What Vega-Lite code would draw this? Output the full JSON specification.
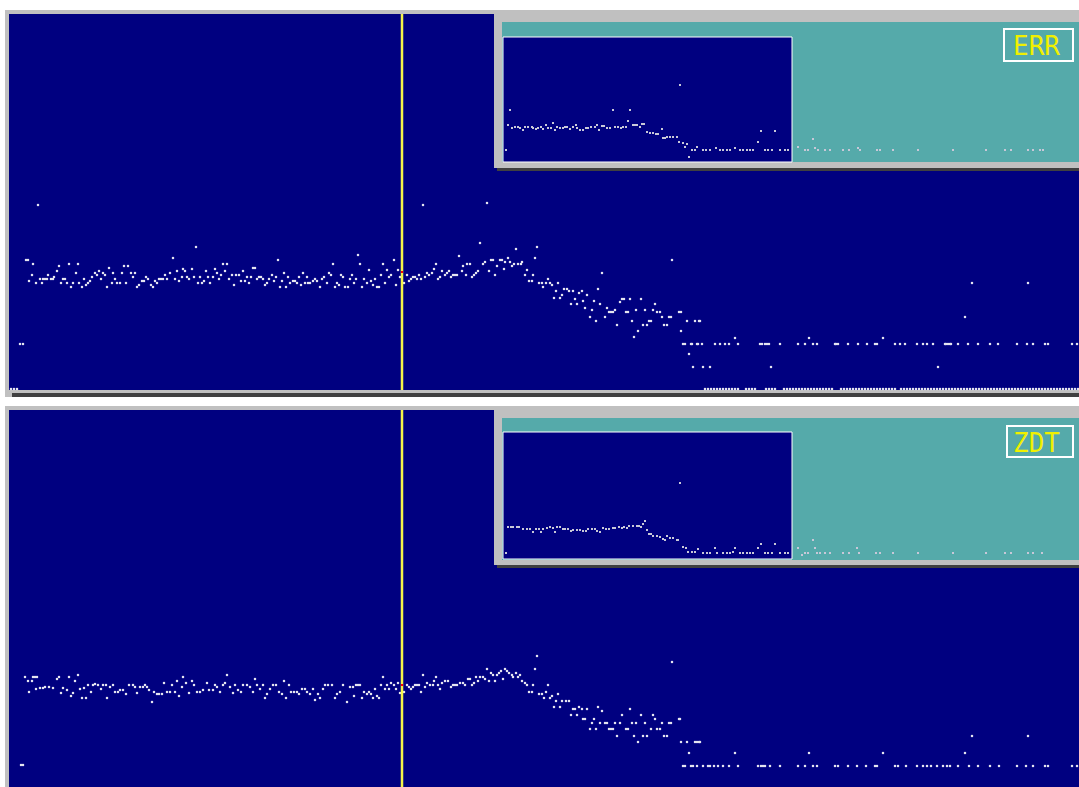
{
"$schema": "https://vega.github.io/schema/vega-lite/v6.json",
"background": "#ffffff",
"padding": {"left": 5, "top": 10, "right": 0, "bottom": 0},
"spacing": 9,
"config": {"view": {"stroke": null, "fill": "#c0c0c0"}},
"datasets": {
"topBg": [{"part":"bg","i":9,"i2":1079,"v":386,"v2":10},{"part":"shadow","i":12,"i2":1079,"v":7,"v2":3}],
"topInsetFrame": [{"part":"insetGray","i":494,"i2":1079,"v":386,"v2":232},{"part":"insetDark","i":497,"i2":1079,"v":232,"v2":229},{"part":"teal","i":502,"i2":1079,"v":378,"v2":238}],
"topBox": [{"i":503,"i2":792,"v":363,"v2":238}],
"topLabelBox": [{"i":1004,"i2":1073,"v":371,"v2":339}],
"topLabel": [{"i":1036.5,"v":345,"label":"ERR"}],
"topCursor": [{"i":402,"v":386,"v2":10}],
"topCursorPt": [{"i":402,"v":128}],
"botBg": [{"part":"bg","i":9,"i2":1079,"v":390,"v2":13}],
"botInsetFrame": [{"part":"insetGray","i":494,"i2":1079,"v":393,"v2":235},{"part":"insetDark","i":497,"i2":1079,"v":235,"v2":232},{"part":"teal","i":502,"i2":1079,"v":382,"v2":240}],
"botBox": [{"i":503,"i2":792,"v":368,"v2":241}],
"botLabelBox": [{"i":1007,"i2":1073,"v":374,"v2":343}],
"botLabel": [{"i":1036.5,"v":348,"label":"ZDT"}],
"botCursor": [{"i":402,"v":390,"v2":13}],
"botCursorPt": [{"i":402,"v":115}],
"topMain": [
{"i":20,"v":56},{"i":23,"v":56},{"i":11,"v":11},{"i":14,"v":11},{"i":17,"v":11},
{"i":26,"v":140},{"i":28,"v":140},{"i":33,"v":136},{"i":29,"v":119},{"i":32,"v":125},{"i":36,"v":117},{"i":38,"v":195},{"i":40,"v":121},{"i":43,"v":121},{"i":42,"v":117},{"i":45,"v":121},{"i":47,"v":121},{"i":48,"v":125},{"i":51,"v":121},{"i":53,"v":121},{"i":54,"v":123},{"i":57,"v":129},{"i":59,"v":134},{"i":61,"v":117},{"i":63,"v":121},{"i":65,"v":121},{"i":67,"v":117},{"i":69,"v":136},{"i":71,"v":113},{"i":73,"v":117},{"i":76,"v":127},{"i":78,"v":136},{"i":79,"v":117},{"i":82,"v":113},{"i":84,"v":121},{"i":86,"v":115},{"i":88,"v":117},{"i":90,"v":119},{"i":92,"v":123},{"i":95,"v":127},{"i":97,"v":125},{"i":99,"v":129},
{"i":101,"v":121},{"i":103,"v":127},{"i":105,"v":125},{"i":107,"v":113},{"i":109,"v":132},{"i":112,"v":117},{"i":113,"v":127},{"i":115,"v":121},{"i":117,"v":117},{"i":120,"v":117},{"i":122,"v":127},{"i":124,"v":134},{"i":128,"v":134},{"i":126,"v":117},{"i":131,"v":127},{"i":133,"v":123},{"i":135,"v":127},{"i":137,"v":113},{"i":139,"v":115},{"i":142,"v":119},{"i":144,"v":119},{"i":146,"v":123},{"i":148,"v":121},{"i":151,"v":115},{"i":153,"v":113},{"i":155,"v":119},{"i":157,"v":117},{"i":159,"v":121},{"i":161,"v":121},{"i":163,"v":121},{"i":165,"v":125},{"i":167,"v":121},{"i":170,"v":127},{"i":173,"v":142},{"i":175,"v":121},{"i":177,"v":129},{"i":179,"v":119},{"i":182,"v":123},{"i":183,"v":131},{"i":185,"v":129},{"i":187,"v":123},{"i":189,"v":121},{"i":192,"v":131},{"i":194,"v":123},{"i":196,"v":153},{"i":198,"v":117},
{"i":200,"v":123},{"i":202,"v":117},{"i":204,"v":119},{"i":206,"v":129},{"i":208,"v":123},{"i":210,"v":117},{"i":213,"v":123},{"i":215,"v":131},{"i":217,"v":127},{"i":219,"v":121},{"i":221,"v":125},{"i":223,"v":136},{"i":227,"v":136},{"i":225,"v":129},{"i":229,"v":121},{"i":232,"v":125},{"i":234,"v":115},{"i":236,"v":125},{"i":239,"v":125},{"i":241,"v":119},{"i":243,"v":129},{"i":245,"v":119},{"i":247,"v":123},{"i":249,"v":117},{"i":251,"v":123},{"i":253,"v":132},{"i":255,"v":132},{"i":257,"v":121},{"i":259,"v":123},{"i":261,"v":123},{"i":263,"v":121},{"i":265,"v":115},{"i":267,"v":117},{"i":269,"v":121},{"i":272,"v":125},{"i":274,"v":119},{"i":276,"v":123},{"i":278,"v":140},{"i":280,"v":113},{"i":282,"v":119},{"i":284,"v":127},{"i":286,"v":113},{"i":288,"v":123},{"i":290,"v":117},{"i":293,"v":119},{"i":295,"v":119},{"i":297,"v":117},{"i":299,"v":123},
{"i":301,"v":115},{"i":303,"v":127},{"i":305,"v":117},{"i":308,"v":117},{"i":310,"v":117},{"i":307,"v":123},{"i":313,"v":119},{"i":315,"v":121},{"i":317,"v":119},{"i":320,"v":113},{"i":322,"v":121},{"i":324,"v":123},{"i":327,"v":117},{"i":329,"v":127},{"i":331,"v":125},{"i":333,"v":136},{"i":335,"v":113},{"i":337,"v":117},{"i":339,"v":115},{"i":341,"v":125},{"i":343,"v":123},{"i":345,"v":113},{"i":348,"v":113},{"i":350,"v":121},{"i":352,"v":125},{"i":354,"v":117},{"i":356,"v":121},{"i":358,"v":145},{"i":360,"v":136},{"i":362,"v":113},{"i":364,"v":121},{"i":367,"v":117},{"i":369,"v":130},{"i":371,"v":119},{"i":373,"v":115},{"i":375,"v":121},{"i":377,"v":113},{"i":379,"v":113},{"i":381,"v":125},{"i":383,"v":136},{"i":385,"v":117},{"i":387,"v":130},{"i":389,"v":123},{"i":391,"v":125},{"i":394,"v":140},{"i":396,"v":115},{"i":398,"v":130},
{"i":400,"v":123},{"i":404,"v":117},{"i":407,"v":125},{"i":409,"v":119},{"i":411,"v":121},{"i":413,"v":123},{"i":415,"v":123},{"i":417,"v":121},{"i":419,"v":125},{"i":421,"v":121},{"i":423,"v":195},{"i":425,"v":123},{"i":427,"v":127},{"i":429,"v":125},{"i":432,"v":127},{"i":434,"v":131},{"i":436,"v":136},{"i":438,"v":121},{"i":440,"v":123},{"i":442,"v":129},{"i":445,"v":125},{"i":447,"v":127},{"i":449,"v":129},{"i":451,"v":123},{"i":453,"v":125},{"i":455,"v":125},{"i":457,"v":125},{"i":459,"v":144},{"i":462,"v":129},{"i":463,"v":134},{"i":466,"v":125},{"i":467,"v":136},{"i":470,"v":136},{"i":472,"v":123},{"i":474,"v":125},{"i":476,"v":127},{"i":478,"v":129},{"i":480,"v":157},{"i":483,"v":136},{"i":485,"v":138},{"i":487,"v":197},{"i":489,"v":129},{"i":491,"v":140},{"i":493,"v":140},{"i":495,"v":125},{"i":497,"v":134},
{"i":500,"v":140},{"i":502,"v":140},{"i":504,"v":131},{"i":505,"v":138},{"i":508,"v":142},{"i":510,"v":138},{"i":512,"v":134},{"i":514,"v":136},{"i":516,"v":151},{"i":518,"v":136},{"i":521,"v":136},{"i":522,"v":138},{"i":525,"v":125},{"i":527,"v":130},{"i":529,"v":119},{"i":532,"v":119},{"i":533,"v":125},{"i":535,"v":142},{"i":537,"v":153},{"i":539,"v":117},{"i":542,"v":117},{"i":543,"v":113},{"i":546,"v":117},{"i":548,"v":121},{"i":550,"v":117},{"i":552,"v":115},{"i":554,"v":102},{"i":556,"v":109},{"i":558,"v":117},{"i":560,"v":102},{"i":562,"v":105},{"i":564,"v":111},{"i":567,"v":111},{"i":569,"v":109},{"i":571,"v":96},{"i":573,"v":109},{"i":575,"v":101},{"i":577,"v":96},{"i":579,"v":107},{"i":582,"v":109},{"i":583,"v":99},{"i":585,"v":92},{"i":587,"v":105},{"i":590,"v":83},{"i":592,"v":90},{"i":594,"v":99},{"i":596,"v":79},{"i":598,"v":111},
{"i":600,"v":96},{"i":602,"v":127},{"i":605,"v":83},{"i":607,"v":92},{"i":609,"v":88},{"i":611,"v":88},{"i":613,"v":88},{"i":615,"v":90},{"i":617,"v":75},{"i":620,"v":98},{"i":622,"v":101},{"i":624,"v":101},{"i":626,"v":88},{"i":628,"v":88},{"i":630,"v":101},{"i":632,"v":79},{"i":634,"v":63},{"i":636,"v":90},{"i":638,"v":69},{"i":641,"v":101},{"i":643,"v":75},{"i":645,"v":90},{"i":647,"v":75},{"i":649,"v":79},{"i":651,"v":79},{"i":653,"v":90},{"i":655,"v":96},{"i":657,"v":88},{"i":660,"v":88},{"i":662,"v":83},{"i":664,"v":75},{"i":667,"v":75},{"i":669,"v":83},{"i":671,"v":83},{"i":672,"v":140},{"i":679,"v":88},{"i":681,"v":69},{"i":683,"v":56},{"i":685,"v":56},{"i":687,"v":79},{"i":689,"v":46},{"i":691,"v":56},{"i":695,"v":79},{"i":697,"v":56},{"i":699,"v":79},{"i":700,"v":79},{"i":702,"v":56},
{"i":692,"v":56},{"i":698,"v":56},{"i":715,"v":56},{"i":720,"v":56},{"i":725,"v":56},{"i":729,"v":56},{"i":738,"v":56},{"i":760,"v":56},{"i":762,"v":56},{"i":765,"v":56},{"i":767,"v":56},{"i":769,"v":56},{"i":780,"v":56},{"i":798,"v":56},{"i":805,"v":56},{"i":813,"v":56},{"i":817,"v":56},{"i":835,"v":56},{"i":836,"v":56},{"i":838,"v":56},{"i":848,"v":56},{"i":858,"v":56},{"i":867,"v":56},{"i":875,"v":56},{"i":877,"v":56},{"i":895,"v":56},{"i":900,"v":56},{"i":905,"v":56},{"i":917,"v":56},{"i":923,"v":56},{"i":927,"v":56},{"i":933,"v":56},{"i":945,"v":56},{"i":946,"v":56},{"i":948,"v":56},{"i":950,"v":56},{"i":951,"v":56},{"i":958,"v":56},{"i":968,"v":56},{"i":978,"v":56},{"i":990,"v":56},{"i":998,"v":56},{"i":1017,"v":56},{"i":1027,"v":56},{"i":1033,"v":56},{"i":1045,"v":56},{"i":1048,"v":56},{"i":1072,"v":56},{"i":1077,"v":56},
{"i":735,"v":62},{"i":809,"v":62},{"i":883,"v":62},{"i":693,"v":33},{"i":703,"v":33},{"i":710,"v":33},{"i":771,"v":33},{"i":938,"v":33},{"i":965,"v":83},{"i":972,"v":117},{"i":1028,"v":117},{"i":681,"v":88},
{"i":705,"v":11},{"i":708,"v":11},{"i":711,"v":11},{"i":714,"v":11},{"i":717,"v":11},{"i":720,"v":11},{"i":723,"v":11},{"i":726,"v":11},{"i":729,"v":11},{"i":732,"v":11},{"i":735,"v":11},{"i":738,"v":11},{"i":746,"v":11},{"i":749,"v":11},{"i":752,"v":11},{"i":755,"v":11},{"i":766,"v":11},{"i":769,"v":11},{"i":772,"v":11},{"i":775,"v":11},{"i":784,"v":11},{"i":787,"v":11},{"i":790,"v":11},{"i":793,"v":11},{"i":796,"v":11},{"i":799,"v":11},{"i":802,"v":11},{"i":805,"v":11},{"i":808,"v":11},{"i":811,"v":11},{"i":814,"v":11},{"i":817,"v":11},{"i":820,"v":11},{"i":823,"v":11},{"i":826,"v":11},{"i":829,"v":11},{"i":832,"v":11},{"i":841,"v":11},{"i":844,"v":11},{"i":847,"v":11},{"i":850,"v":11},{"i":853,"v":11},{"i":856,"v":11},{"i":859,"v":11},{"i":862,"v":11},{"i":865,"v":11},{"i":868,"v":11},{"i":871,"v":11},{"i":874,"v":11},{"i":877,"v":11},{"i":880,"v":11},{"i":883,"v":11},{"i":886,"v":11},{"i":889,"v":11},{"i":892,"v":11},{"i":895,"v":11},{"i":901,"v":11},{"i":904,"v":11},{"i":907,"v":11},{"i":910,"v":11},{"i":913,"v":11},{"i":916,"v":11},{"i":919,"v":11},{"i":922,"v":11},{"i":925,"v":11},{"i":928,"v":11},{"i":931,"v":11},{"i":934,"v":11},{"i":937,"v":11},{"i":940,"v":11},{"i":943,"v":11},{"i":946,"v":11},{"i":949,"v":11},{"i":952,"v":11},{"i":955,"v":11},{"i":958,"v":11},{"i":961,"v":11},{"i":964,"v":11},{"i":967,"v":11},{"i":970,"v":11},{"i":973,"v":11},{"i":976,"v":11},{"i":979,"v":11},{"i":982,"v":11},{"i":985,"v":11},{"i":988,"v":11},{"i":991,"v":11},{"i":994,"v":11},{"i":997,"v":11},{"i":1000,"v":11},{"i":1003,"v":11},{"i":1006,"v":11},{"i":1009,"v":11},{"i":1012,"v":11},{"i":1015,"v":11},{"i":1018,"v":11},{"i":1021,"v":11},{"i":1024,"v":11},{"i":1027,"v":11},{"i":1030,"v":11},{"i":1033,"v":11},{"i":1036,"v":11},{"i":1039,"v":11},{"i":1042,"v":11},{"i":1045,"v":11},{"i":1048,"v":11},{"i":1051,"v":11},{"i":1054,"v":11},{"i":1057,"v":11},{"i":1060,"v":11},{"i":1063,"v":11},{"i":1066,"v":11},{"i":1069,"v":11},{"i":1072,"v":11},{"i":1075,"v":11},{"i":1078,"v":11}
],
"topInset": [
{"i":506,"v":250},{"i":510,"v":290},{"i":508,"v":275},{"i":512,"v":272},{"i":515,"v":273},{"i":518,"v":273},{"i":520,"v":272},{"i":523,"v":270},{"i":525,"v":273},{"i":528,"v":273},{"i":532,"v":273},{"i":533,"v":272},{"i":536,"v":271},{"i":538,"v":272},{"i":541,"v":273},{"i":543,"v":271},{"i":546,"v":275},{"i":548,"v":272},{"i":551,"v":272},{"i":553,"v":277},{"i":555,"v":270},{"i":557,"v":273},{"i":560,"v":272},{"i":563,"v":272},{"i":565,"v":273},{"i":567,"v":273},{"i":570,"v":271},{"i":573,"v":273},{"i":576,"v":275},{"i":577,"v":272},{"i":580,"v":270},{"i":583,"v":270},{"i":586,"v":272},{"i":588,"v":272},{"i":591,"v":273},{"i":595,"v":273},{"i":597,"v":275},{"i":599,"v":270},{"i":602,"v":274},{"i":604,"v":274},{"i":607,"v":272},{"i":610,"v":272},{"i":613,"v":290},{"i":615,"v":273},{"i":618,"v":273},{"i":621,"v":272},{"i":623,"v":273},{"i":626,"v":273},{"i":628,"v":279},{"i":630,"v":290},{"i":633,"v":275},{"i":635,"v":275},{"i":637,"v":275},{"i":640,"v":273},{"i":642,"v":276},{"i":644,"v":276},{"i":647,"v":268},{"i":650,"v":267},{"i":653,"v":267},{"i":656,"v":266},{"i":658,"v":266},{"i":662,"v":271},{"i":663,"v":262},{"i":665,"v":262},{"i":667,"v":263},{"i":670,"v":263},{"i":673,"v":263},{"i":677,"v":263},{"i":679,"v":258},{"i":680,"v":315},{"i":683,"v":257},{"i":685,"v":253},{"i":687,"v":256},{"i":689,"v":243},{"i":692,"v":250},{"i":695,"v":250},{"i":697,"v":253},{"i":703,"v":250},{"i":706,"v":250},{"i":710,"v":250},{"i":716,"v":252},{"i":720,"v":250},{"i":723,"v":250},{"i":727,"v":250},{"i":730,"v":250},{"i":735,"v":252},{"i":740,"v":250},{"i":743,"v":250},{"i":747,"v":250},{"i":750,"v":250},{"i":753,"v":250},{"i":758,"v":258},{"i":761,"v":269},{"i":765,"v":250},{"i":768,"v":250},{"i":772,"v":250},{"i":775,"v":269},{"i":780,"v":250},{"i":785,"v":250},{"i":788,"v":250},{"i":798,"v":253},{"i":805,"v":250},{"i":808,"v":250},{"i":813,"v":261},{"i":815,"v":252},{"i":818,"v":250},{"i":825,"v":250},{"i":830,"v":250},{"i":843,"v":250},{"i":849,"v":250},{"i":858,"v":252},{"i":860,"v":250},{"i":877,"v":250},{"i":880,"v":250},{"i":893,"v":250},{"i":918,"v":250},{"i":953,"v":250},{"i":986,"v":250},{"i":1005,"v":250},{"i":1011,"v":250},{"i":1028,"v":250},{"i":1033,"v":250},{"i":1040,"v":250},{"i":1043,"v":250}
],
"botMain": [
{"i":21,"v":35},{"i":23,"v":35},{"i":25,"v":123},{"i":28,"v":119},{"i":32,"v":119},{"i":33,"v":123},{"i":35,"v":123},{"i":37,"v":123},{"i":29,"v":108},{"i":36,"v":111},{"i":40,"v":112},{"i":43,"v":112},{"i":45,"v":113},{"i":49,"v":113},{"i":53,"v":112},{"i":57,"v":121},{"i":59,"v":123},{"i":61,"v":107},{"i":63,"v":112},{"i":67,"v":110},{"i":69,"v":123},{"i":71,"v":104},{"i":73,"v":107},{"i":75,"v":119},{"i":78,"v":125},{"i":80,"v":111},{"i":82,"v":102},{"i":86,"v":102},{"i":84,"v":112},{"i":88,"v":115},{"i":91,"v":108},{"i":93,"v":115},{"i":95,"v":116},{"i":98,"v":115},
{"i":101,"v":111},{"i":103,"v":115},{"i":106,"v":115},{"i":107,"v":102},{"i":110,"v":113},{"i":113,"v":115},{"i":115,"v":108},{"i":118,"v":108},{"i":120,"v":110},{"i":123,"v":110},{"i":126,"v":106},{"i":129,"v":115},{"i":133,"v":115},{"i":135,"v":113},{"i":137,"v":107},{"i":140,"v":113},{"i":143,"v":113},{"i":145,"v":115},{"i":147,"v":113},{"i":149,"v":110},{"i":152,"v":98},{"i":154,"v":108},{"i":157,"v":106},{"i":159,"v":106},{"i":162,"v":106},{"i":164,"v":117},{"i":167,"v":108},{"i":170,"v":108},{"i":172,"v":115},{"i":175,"v":108},{"i":177,"v":119},{"i":179,"v":104},{"i":182,"v":113},{"i":183,"v":123},{"i":186,"v":117},{"i":189,"v":107},{"i":192,"v":119},{"i":194,"v":115},{"i":197,"v":108},
{"i":200,"v":108},{"i":203,"v":110},{"i":207,"v":117},{"i":209,"v":110},{"i":213,"v":110},{"i":215,"v":115},{"i":217,"v":113},{"i":220,"v":108},{"i":223,"v":115},{"i":225,"v":117},{"i":227,"v":125},{"i":230,"v":113},{"i":233,"v":107},{"i":235,"v":115},{"i":238,"v":110},{"i":241,"v":108},{"i":243,"v":115},{"i":247,"v":115},{"i":250,"v":113},{"i":253,"v":108},{"i":255,"v":121},{"i":257,"v":115},{"i":260,"v":111},{"i":263,"v":115},{"i":265,"v":102},{"i":267,"v":106},{"i":270,"v":111},{"i":273,"v":115},{"i":276,"v":115},{"i":279,"v":108},{"i":282,"v":106},{"i":284,"v":119},{"i":286,"v":102},{"i":289,"v":115},{"i":291,"v":108},{"i":294,"v":108},{"i":297,"v":108},{"i":299,"v":106},
{"i":302,"v":111},{"i":305,"v":111},{"i":307,"v":108},{"i":310,"v":106},{"i":313,"v":111},{"i":315,"v":100},{"i":318,"v":106},{"i":320,"v":102},{"i":323,"v":111},{"i":325,"v":115},{"i":328,"v":115},{"i":332,"v":115},{"i":335,"v":102},{"i":337,"v":106},{"i":340,"v":108},{"i":343,"v":115},{"i":347,"v":98},{"i":350,"v":113},{"i":353,"v":113},{"i":356,"v":115},{"i":358,"v":115},{"i":354,"v":104},{"i":360,"v":115},{"i":362,"v":102},{"i":364,"v":108},{"i":367,"v":106},{"i":369,"v":108},{"i":371,"v":106},{"i":373,"v":102},{"i":375,"v":111},{"i":377,"v":104},{"i":379,"v":102},{"i":381,"v":115},{"i":383,"v":123},{"i":385,"v":111},{"i":387,"v":115},{"i":389,"v":111},{"i":391,"v":117},{"i":394,"v":115},{"i":396,"v":111},{"i":398,"v":117},
{"i":400,"v":107},{"i":404,"v":108},{"i":407,"v":115},{"i":409,"v":113},{"i":411,"v":111},{"i":413,"v":113},{"i":415,"v":115},{"i":417,"v":115},{"i":419,"v":115},{"i":421,"v":108},{"i":423,"v":125},{"i":425,"v":113},{"i":427,"v":117},{"i":430,"v":115},{"i":433,"v":115},{"i":434,"v":119},{"i":436,"v":123},{"i":438,"v":115},{"i":440,"v":111},{"i":442,"v":117},{"i":445,"v":119},{"i":448,"v":119},{"i":451,"v":113},{"i":453,"v":115},{"i":455,"v":115},{"i":457,"v":115},{"i":460,"v":117},{"i":463,"v":117},{"i":465,"v":115},{"i":468,"v":121},{"i":470,"v":121},{"i":472,"v":115},{"i":474,"v":117},{"i":476,"v":123},{"i":478,"v":119},{"i":480,"v":123},{"i":483,"v":123},{"i":485,"v":121},{"i":487,"v":131},{"i":489,"v":119},{"i":491,"v":127},{"i":493,"v":125},{"i":495,"v":119},{"i":497,"v":125},{"i":499,"v":127},
{"i":501,"v":129},{"i":503,"v":121},{"i":505,"v":131},{"i":507,"v":129},{"i":509,"v":127},{"i":512,"v":125},{"i":513,"v":123},{"i":516,"v":127},{"i":518,"v":123},{"i":520,"v":125},{"i":522,"v":119},{"i":525,"v":117},{"i":527,"v":115},{"i":529,"v":108},{"i":532,"v":108},{"i":533,"v":115},{"i":535,"v":131},{"i":537,"v":144},{"i":539,"v":106},{"i":542,"v":106},{"i":544,"v":102},{"i":546,"v":108},{"i":548,"v":115},{"i":550,"v":102},{"i":552,"v":104},{"i":554,"v":93},{"i":556,"v":99},{"i":558,"v":106},{"i":560,"v":93},{"i":562,"v":99},{"i":566,"v":99},{"i":569,"v":99},{"i":571,"v":85},{"i":573,"v":91},{"i":575,"v":91},{"i":577,"v":85},{"i":579,"v":93},{"i":582,"v":91},{"i":583,"v":81},{"i":585,"v":81},{"i":587,"v":91},{"i":590,"v":71},{"i":592,"v":77},{"i":594,"v":81},{"i":596,"v":71},{"i":598,"v":93},
{"i":600,"v":77},{"i":602,"v":89},{"i":605,"v":77},{"i":607,"v":77},{"i":609,"v":71},{"i":611,"v":71},{"i":613,"v":71},{"i":615,"v":77},{"i":617,"v":64},{"i":620,"v":77},{"i":622,"v":85},{"i":626,"v":71},{"i":628,"v":71},{"i":630,"v":91},{"i":632,"v":77},{"i":634,"v":64},{"i":636,"v":77},{"i":638,"v":58},{"i":641,"v":85},{"i":643,"v":64},{"i":645,"v":77},{"i":647,"v":64},{"i":651,"v":71},{"i":653,"v":85},{"i":655,"v":81},{"i":657,"v":71},{"i":660,"v":71},{"i":662,"v":77},{"i":664,"v":64},{"i":667,"v":64},{"i":669,"v":77},{"i":671,"v":77},{"i":672,"v":138},{"i":679,"v":81},{"i":681,"v":58},{"i":687,"v":58},{"i":689,"v":47},{"i":695,"v":58},{"i":697,"v":58},{"i":699,"v":58},{"i":700,"v":58},
{"i":683,"v":34},{"i":685,"v":34},{"i":691,"v":34},{"i":693,"v":34},{"i":697,"v":34},{"i":703,"v":34},{"i":708,"v":34},{"i":710,"v":34},{"i":714,"v":34},{"i":718,"v":34},{"i":723,"v":34},{"i":729,"v":34},{"i":738,"v":34},{"i":758,"v":34},{"i":761,"v":34},{"i":763,"v":34},{"i":765,"v":34},{"i":770,"v":34},{"i":780,"v":34},{"i":798,"v":34},{"i":805,"v":34},{"i":813,"v":34},{"i":817,"v":34},{"i":835,"v":34},{"i":838,"v":34},{"i":848,"v":34},{"i":857,"v":34},{"i":866,"v":34},{"i":875,"v":34},{"i":877,"v":34},{"i":895,"v":34},{"i":898,"v":34},{"i":906,"v":34},{"i":917,"v":34},{"i":923,"v":34},{"i":927,"v":34},{"i":931,"v":34},{"i":937,"v":34},{"i":943,"v":34},{"i":947,"v":34},{"i":950,"v":34},{"i":958,"v":34},{"i":969,"v":34},{"i":978,"v":34},{"i":990,"v":34},{"i":999,"v":34},{"i":1017,"v":34},{"i":1026,"v":34},{"i":1033,"v":34},{"i":1045,"v":34},{"i":1048,"v":34},{"i":1072,"v":34},{"i":1077,"v":34},
{"i":735,"v":47},{"i":809,"v":47},{"i":883,"v":47},{"i":965,"v":47},{"i":972,"v":64},{"i":1028,"v":64},{"i":680,"v":81}
],
"botInset": [
{"i":506,"v":247},{"i":508,"v":273},{"i":511,"v":273},{"i":513,"v":273},{"i":517,"v":273},{"i":519,"v":273},{"i":523,"v":271},{"i":527,"v":271},{"i":530,"v":271},{"i":533,"v":268},{"i":536,"v":271},{"i":539,"v":271},{"i":541,"v":268},{"i":543,"v":271},{"i":547,"v":272},{"i":550,"v":273},{"i":553,"v":272},{"i":555,"v":268},{"i":557,"v":273},{"i":560,"v":273},{"i":563,"v":271},{"i":565,"v":271},{"i":568,"v":271},{"i":571,"v":269},{"i":573,"v":270},{"i":577,"v":270},{"i":580,"v":270},{"i":583,"v":269},{"i":586,"v":269},{"i":588,"v":271},{"i":592,"v":271},{"i":595,"v":271},{"i":597,"v":269},{"i":600,"v":268},{"i":603,"v":272},{"i":606,"v":271},{"i":609,"v":271},{"i":613,"v":272},{"i":615,"v":272},{"i":619,"v":273},{"i":622,"v":272},{"i":624,"v":273},{"i":627,"v":272},{"i":629,"v":274},{"i":633,"v":274},{"i":637,"v":274},{"i":639,"v":274},{"i":641,"v":273},{"i":643,"v":276},{"i":645,"v":279},{"i":647,"v":270},{"i":649,"v":266},{"i":651,"v":266},{"i":653,"v":264},{"i":657,"v":264},{"i":660,"v":263},{"i":663,"v":261},{"i":665,"v":260},{"i":667,"v":264},{"i":670,"v":262},{"i":673,"v":262},{"i":677,"v":260},{"i":678,"v":260},{"i":680,"v":317},{"i":683,"v":253},{"i":686,"v":252},{"i":688,"v":248},{"i":692,"v":248},{"i":695,"v":248},{"i":698,"v":251},{"i":703,"v":247},{"i":707,"v":247},{"i":710,"v":247},{"i":715,"v":252},{"i":717,"v":247},{"i":723,"v":247},{"i":727,"v":247},{"i":730,"v":247},{"i":733,"v":248},{"i":735,"v":252},{"i":740,"v":247},{"i":743,"v":247},{"i":747,"v":247},{"i":750,"v":247},{"i":753,"v":247},{"i":758,"v":252},{"i":761,"v":256},{"i":765,"v":247},{"i":768,"v":247},{"i":772,"v":247},{"i":775,"v":256},{"i":780,"v":247},{"i":785,"v":247},{"i":788,"v":247},{"i":798,"v":252},{"i":802,"v":245},{"i":805,"v":247},{"i":808,"v":247},{"i":813,"v":260},{"i":815,"v":252},{"i":817,"v":247},{"i":820,"v":247},{"i":825,"v":247},{"i":830,"v":247},{"i":843,"v":247},{"i":849,"v":247},{"i":857,"v":252},{"i":859,"v":247},{"i":876,"v":247},{"i":880,"v":247},{"i":893,"v":247},{"i":918,"v":247},{"i":953,"v":247},{"i":986,"v":247},{"i":1005,"v":247},{"i":1011,"v":247},{"i":1028,"v":247},{"i":1033,"v":247},{"i":1042,"v":247}
]
},
"vconcat": [
{
"width": 1074, "height": 387,
"encoding": {
"x": {"field": "i", "type": "quantitative", "scale": {"domain": [5, 1079], "nice": false, "zero": false}, "axis": null},
"y": {"field": "v", "type": "quantitative", "scale": {"domain": [3, 390], "nice": false, "zero": false}, "axis": null}
},
"layer": [
{"data": {"name": "topBg"}, "mark": {"type": "rect"}, "encoding": {"x2": {"field": "i2"}, "y2": {"field": "v2"}, "color": {"field": "part", "type": "nominal", "scale": {"domain": ["bg", "shadow", "insetGray", "insetDark", "teal"], "range": ["#000080", "#404040", "#c0c0c0", "#404040", "#55aaaa"]}, "legend": null}}},
{"data": {"name": "topMain"}, "mark": {"type": "square", "size": 5, "color": "#e4e4f0", "opacity": 1}},
{"data": {"name": "topCursor"}, "mark": {"type": "rule", "color": "#f4f44a", "strokeWidth": 2.5}, "encoding": {"y2": {"field": "v2"}}},
{"data": {"name": "topCursorPt"}, "mark": {"type": "square", "size": 4, "color": "#ff0000", "opacity": 1}},
{"data": {"name": "topInsetFrame"}, "mark": {"type": "rect"}, "encoding": {"x2": {"field": "i2"}, "y2": {"field": "v2"}, "color": {"field": "part", "type": "nominal", "scale": {"domain": ["bg", "shadow", "insetGray", "insetDark", "teal"], "range": ["#000080", "#404040", "#c0c0c0", "#404040", "#55aaaa"]}, "legend": null}}},
{"data": {"name": "topBox"}, "mark": {"type": "rect", "fill": "#000080", "stroke": "#ffffff", "strokeWidth": 1}, "encoding": {"x2": {"field": "i2"}, "y2": {"field": "v2"}}},
{"data": {"name": "topInset"}, "mark": {"type": "square", "size": 4, "color": "#c8c8d8", "opacity": 1}},
{"data": {"name": "topLabelBox"}, "mark": {"type": "rect", "fill": "#55aaaa", "stroke": "#ffffff", "strokeWidth": 2}, "encoding": {"x2": {"field": "i2"}, "y2": {"field": "v2"}}},
{"data": {"name": "topLabel"}, "mark": {"type": "text", "font": "DejaVu Sans Mono", "fontSize": 26, "color": "#f0f000", "align": "center", "baseline": "alphabetic"}, "encoding": {"text": {"field": "label"}}}
]
},
{
"width": 1074, "height": 381,
"encoding": {
"x": {"field": "i", "type": "quantitative", "scale": {"domain": [5, 1079], "nice": false, "zero": false}, "axis": null},
"y": {"field": "v", "type": "quantitative", "scale": {"domain": [13, 394], "nice": false, "zero": false}, "axis": null}
},
"layer": [
{"data": {"name": "botBg"}, "mark": {"type": "rect"}, "encoding": {"x2": {"field": "i2"}, "y2": {"field": "v2"}, "color": {"field": "part", "type": "nominal", "scale": {"domain": ["bg", "shadow", "insetGray", "insetDark", "teal"], "range": ["#000080", "#404040", "#c0c0c0", "#404040", "#55aaaa"]}, "legend": null}}},
{"data": {"name": "botMain"}, "mark": {"type": "square", "size": 5, "color": "#e4e4f0", "opacity": 1}},
{"data": {"name": "botCursor"}, "mark": {"type": "rule", "color": "#f4f44a", "strokeWidth": 2.5}, "encoding": {"y2": {"field": "v2"}}},
{"data": {"name": "botCursorPt"}, "mark": {"type": "square", "size": 4, "color": "#ff0000", "opacity": 1}},
{"data": {"name": "botInsetFrame"}, "mark": {"type": "rect"}, "encoding": {"x2": {"field": "i2"}, "y2": {"field": "v2"}, "color": {"field": "part", "type": "nominal", "scale": {"domain": ["bg", "shadow", "insetGray", "insetDark", "teal"], "range": ["#000080", "#404040", "#c0c0c0", "#404040", "#55aaaa"]}, "legend": null}}},
{"data": {"name": "botBox"}, "mark": {"type": "rect", "fill": "#000080", "stroke": "#ffffff", "strokeWidth": 1}, "encoding": {"x2": {"field": "i2"}, "y2": {"field": "v2"}}},
{"data": {"name": "botInset"}, "mark": {"type": "square", "size": 4, "color": "#c8c8d8", "opacity": 1}},
{"data": {"name": "botLabelBox"}, "mark": {"type": "rect", "fill": "#55aaaa", "stroke": "#ffffff", "strokeWidth": 2}, "encoding": {"x2": {"field": "i2"}, "y2": {"field": "v2"}}},
{"data": {"name": "botLabel"}, "mark": {"type": "text", "font": "DejaVu Sans Mono", "fontSize": 26, "color": "#f0f000", "align": "center", "baseline": "alphabetic"}, "encoding": {"text": {"field": "label"}}}
]
}
]
}
